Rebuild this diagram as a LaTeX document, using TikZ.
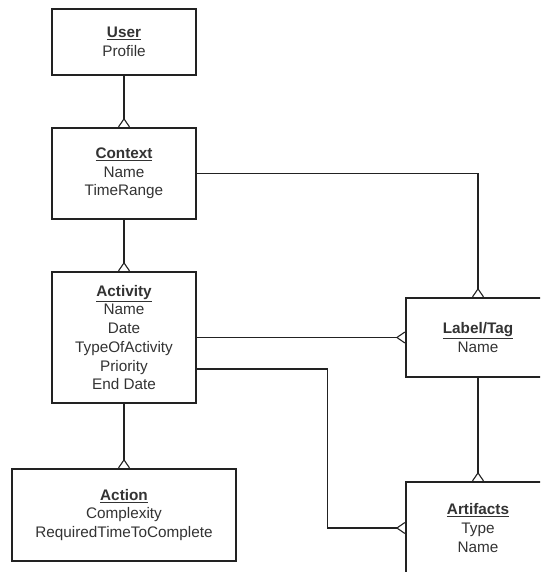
\documentclass[tikz,border=0pt]{standalone}
\usepackage{fontspec}
\setmainfont{Liberation Sans}
\usetikzlibrary{arrows.meta,positioning}
\definecolor{erline}{HTML}{222222}
\definecolor{ertext}{HTML}{333333}
\newcommand{\ertitle}[1]{\textbf{\underline{#1}}}

\begin{document}
\begin{tikzpicture}[x=1pt,y=-1pt,line width=1.1pt,
    entity/.style={draw=erline,fill=white,text=ertext,align=center,inner sep=0pt,
      minimum width=144pt,font=\fontsize{15.3}{18.7}\selectfont},
    crow/.style={draw=erline,-{Straight Barb[reversed,length=8pt,width=11pt,line width=1.1pt]}}]
    \useasboundingbox (0,0) rectangle (540,572);
    \clip (0,0) rectangle (540,572);
    \node[entity,minimum height=66pt] (user) at (124,42) {\ertitle{User}\\Profile};
    \node[entity,minimum height=91pt] (context) at (124,173.5) {\ertitle{Context}\\Name\\TimeRange};
    \node[entity,minimum height=131pt] (activity) at (124,337.5)
      {\ertitle{Activity}\\Name\\Date\\TypeOfActivity\\Priority\\End Date};
    \node[entity,minimum width=224pt,minimum height=92pt] (action) at (124,515)
      {\ertitle{Action}\\Complexity\\RequiredTimeToComplete};
    \node[entity,minimum height=79pt] (label) at (478,337.5) {\ertitle{Label/Tag}\\Name};
    \node[entity,minimum height=92pt] (artifacts) at (478,528) {\ertitle{Artifacts}\\Type\\Name};
    \draw[crow] (user) -- (context);
    \draw[crow] (context) -- (activity);
    \draw[crow] (activity) -- (action);
    \draw[crow] (context.east) -| (label.north);
    \draw[crow] (activity.east) -- (label.west);
    \draw[crow] ([yshift=-31.5pt]activity.east) -- ++(131,0) |- (artifacts.west);
    \draw[crow] (label) -- (artifacts);
  \end{tikzpicture}
\end{document}
